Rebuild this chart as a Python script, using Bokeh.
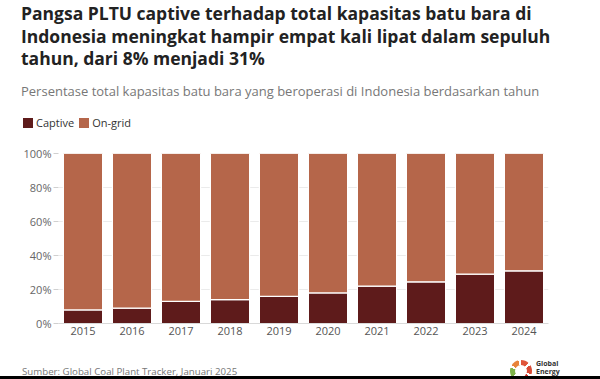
from bokeh.plotting import figure
from bokeh.models import ColumnDataSource, FixedTicker, CustomJSTickFormatter, Div
from bokeh.layouts import column
from bokeh.embed import file_html
from bokeh.resources import INLINE

years = ["2015", "2016", "2017", "2018", "2019", "2020", "2021", "2022", "2023", "2024"]
captive = [8, 9, 13, 14, 16, 18, 22, 24.5, 29, 31]
ongrid = [100 - c for c in captive]
series = ["captive", "ongrid"]
series_labels = ["Captive", "On-grid"]
colors = ["#5e1b1b", "#b5664a"]
y_ticks = [0, 20, 40, 60, 80, 100]

title_lines = [
    "Pangsa PLTU captive terhadap total kapasitas batu bara di",
    "Indonesia meningkat hampir empat kali lipat dalam sepuluh",
    "tahun, dari 8% menjadi 31%",
]
subtitle = "Persentase total kapasitas batu bara yang beroperasi di Indonesia berdasarkan tahun"
source_note = "Sumber: Global Coal Plant Tracker, Januari 2025"
logo_lines = ["Global", "Energy"]

FONT = "'Open Sans'"
W = 584
TOP_H, FIG_H, FOOT_H = 140, 205, 34
FL, FT, FW, FH = 58, 13, 490, 170

# ---- header (title, subtitle, legend)
legend_html = "".join(
    f'<span style="display:inline-flex;align-items:center;margin-right:5px;">'
    f'<span style="display:inline-block;width:10px;height:10px;background:{c};margin-right:3px;"></span>'
    f'<span>{lab}</span></span>'
    for c, lab in zip(colors, series_labels))
header_html = (
    f'<div style="position:relative;width:{W}px;height:{TOP_H}px;font-family:{FONT};">'
    f'<div style="position:absolute;left:21px;top:2px;font-size:17.5px;line-height:22.5px;'
    f'font-weight:700;color:#222;white-space:nowrap;">' + "<br>".join(title_lines) + '</div>'
    f'<div style="position:absolute;left:21px;top:83px;font-size:13px;line-height:16px;'
    f'color:#777;white-space:nowrap;">{subtitle}</div>'
    f'<div style="position:absolute;left:23px;top:116px;font-size:11px;line-height:14px;'
    f'color:#333;white-space:nowrap;display:flex;align-items:center;">{legend_html}</div>'
    '</div>')
header = Div(text=header_html, width=W, height=TOP_H, margin=(0, 0, 0, 0))

# ---- chart
src = ColumnDataSource(dict(years=years, captive=captive, ongrid=ongrid))
p = figure(x_range=years, y_range=(0, 100), width=W, height=FIG_H,
           output_backend="svg", toolbar_location=None,
           min_border_left=FL, min_border_right=W - FL - FW,
           min_border_top=FT, min_border_bottom=FIG_H - FT - FH, margin=(0, 0, 0, 0))

p.vbar_stack(series, x="years", width=0.8, source=src, color=colors,
             line_color="white", line_width=1.2)

p.outline_line_color = None
p.xgrid.grid_line_color = None
p.ygrid.grid_line_color = "#ebebeb"
p.yaxis.ticker = FixedTicker(ticks=y_ticks)
p.yaxis.formatter = CustomJSTickFormatter(code="return tick + '%'")
p.yaxis.axis_line_color = None
p.yaxis.major_tick_line_color = "#d0d0d0"
p.yaxis.major_tick_out = 5
p.yaxis.major_tick_in = 0
p.yaxis.minor_tick_line_color = None
p.yaxis.major_label_standoff = 2
p.yaxis.major_label_text_font = "Open Sans"
p.yaxis.major_label_text_font_size = "11px"
p.yaxis.major_label_text_color = "#666666"
p.xaxis.axis_line_color = "#d9d9d9"
p.xaxis.major_tick_line_color = None
p.xaxis.major_tick_out = 0
p.xaxis.major_tick_in = 0
p.xaxis.minor_tick_line_color = None
p.xaxis.major_label_text_font = "Open Sans"
p.xaxis.major_label_text_font_size = "11px"
p.xaxis.major_label_text_color = "#555555"
p.xaxis.major_label_standoff = 3

# ---- footer (source + logo)
ring = ('<div style="position:absolute;left:510px;top:15px;width:22px;height:22px;border-radius:50%;'
        'background:conic-gradient(#e0553a 0 12%, #fff 12% 16%, #d84a35 16% 30%, #fff 30% 34%, '
        '#c8372d 34% 45%, #fff 45% 50%, #2f9c8f 50% 62%, #fff 62% 66%, #7fb24a 66% 80%, #fff 80% 84%, '
        '#e8833a 84% 96%, #fff 96% 100%);">'
        '<div style="position:absolute;left:5px;top:5px;width:12px;height:12px;border-radius:50%;background:#fff;"></div></div>')
footer_html = (
    f'<div style="position:relative;width:{W + 16}px;height:{FOOT_H}px;font-family:{FONT};overflow:hidden;">'
    f'<div style="position:absolute;left:22px;top:21px;font-size:9.7px;line-height:12px;color:#777;'
    f'white-space:nowrap;">{source_note}</div>'
    + ring +
    f'<div style="position:absolute;left:536px;top:15px;font-size:7px;line-height:8px;font-weight:700;'
    f'color:#333;white-space:nowrap;">' + "<br>".join(logo_lines) + '</div>'
    '<div style="position:absolute;left:0;top:31px;width:100%;height:3px;background:#000;"></div>'
    '</div>')
footer = Div(text=footer_html, width=W, height=FOOT_H, margin=(0, 0, 0, 0))

layout = column(header, p, footer, spacing=0, margin=(0, 0, 0, 0))
open("out.html", "w").write(file_html(layout, INLINE))
